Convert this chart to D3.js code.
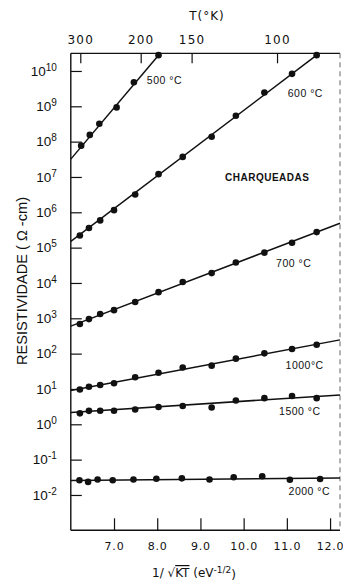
<!DOCTYPE html>
<html>
<head>
<meta charset="utf-8">
<script src="https://cdn.jsdelivr.net/npm/d3@7"></script>
<style>
  html, body { margin: 0; padding: 0; background: #fff; }
  svg { display: block; }
  text { fill: #111; }
</style>
</head>
<body>
<svg id="chart" width="343" height="581"></svg>
<script>
// ---------- DATA ----------
const kB = 8.617e-5;                       // eV/K, top axis conversion
const tempTicks = [300, 200, 150, 100];    // T (°K) top axis
const xTicks = [7, 8, 9, 10, 11, 12];      // 1/sqrt(kT)
const yExps = [-2, -1, 0, 1, 2, 3, 4, 5, 6, 7, 8, 9, 10];

const seriesNames = ["500 °C", "600 °C", "700 °C", "1000°C", "1500 °C", "2000 °C"];

const x500 = [6.24, 6.44, 6.66, 7.06, 7.46, 8.03];
const r500 = [7.7e7, 1.55e8, 3.2e8, 9.3e8, 4.8e9, 2.8e10];

const xGrid = [6.21, 6.42, 6.68, 7.00, 7.49, 8.03, 8.59, 9.26, 9.82, 10.48, 11.12, 11.69];
const r600 = [2.2e5, 3.6e5, 5.9e5, 1.15e6, 3.2e6, 1.2e7, 3.7e7, 1.38e8, 5.4e8, 2.45e9, 8.3e9, 2.8e10];
const r700 = [690, 950, 1320, 1700, 2900, 5500, 1.07e4, 1.9e4, 3.8e4, 7.2e4, 1.38e5, 2.75e5];
const r1000 = [9.7, 11.5, 12.9, 14.5, 21.4, 28.8, 40.7, 45.7, 72, 102, 135, 178];
const r1500 = [2.04, 2.4, 2.43, 2.43, 2.63, 3.1, 3.3, 3.0, 4.7, 5.5, 6.3, 5.5];

const x2000 = [6.20, 6.40, 6.62, 6.97, 7.45, 7.98, 8.57, 9.21, 9.77, 10.43, 11.07, 11.77];
const r2000 = [0.026, 0.0234, 0.0275, 0.026, 0.0275, 0.0288, 0.0295, 0.0275, 0.0316, 0.034, 0.0269, 0.0282];

// fitted lines (x, resistivity)
const fit500 = [[6.0, 3.2e7], [8.03, 2.8e10]];
const fit600 = [[6.0, 1.5e5], [11.69, 2.8e10]];
const fit700 = [[6.0, 600], [12.23, 4.9e5]];
const fit1000 = [[6.0, 9.0], [12.23, 245]];
const fit1500 = [[6.0, 2.16], [12.23, 6.8]];
const fit2000 = [[6.0, 0.0257], [12.23, 0.030]];

// ---------- CHART ----------
const svg = d3.select("#chart");
const L = 70.8, R = 340, T = 53.3, B = 530.3;

const x = d3.scaleLinear().domain([6, 12.23]).range([L, R]);
const y = d3.scaleLog().domain([1e-3, Math.pow(10, 10.5)]).range([B, T]);

const font = "'Liberation Sans', Arial, sans-serif";

// frame
svg.append("line").attr("x1", L).attr("x2", L).attr("y1", T).attr("y2", B)
  .attr("stroke", "#111").attr("stroke-width", 1.4);
svg.append("line").attr("x1", L).attr("x2", R).attr("y1", T).attr("y2", T)
  .attr("stroke", "#111").attr("stroke-width", 1.3);
svg.append("line").attr("x1", L).attr("x2", R).attr("y1", B).attr("y2", B)
  .attr("stroke", "#111").attr("stroke-width", 1.4);
svg.append("line").attr("x1", R).attr("x2", R).attr("y1", T).attr("y2", B)
  .attr("stroke", "#666").attr("stroke-width", 1).attr("stroke-dasharray", "5,4");

// bottom axis
const gx = svg.append("g").attr("transform", `translate(0,${B})`)
  .call(d3.axisBottom(x).tickValues(xTicks).tickSize(-12).tickPadding(12)
    .tickFormat(d => d.toFixed(1)));
gx.select(".domain").remove();
gx.selectAll(".tick line").attr("stroke", "#111").attr("stroke-width", 1.2);
gx.selectAll(".tick text").attr("font-family", "'DejaVu Sans', sans-serif")
  .attr("font-size", 11).attr("letter-spacing", 0.8).attr("fill", "#111");

// top axis (temperature)
const gt = svg.append("g").attr("transform", `translate(0,${T})`)
  .call(d3.axisTop(x).tickValues(tempTicks.map(t => 1 / Math.sqrt(kB * t)))
    .tickSize(-10).tickPadding(9).tickFormat((d, i) => tempTicks[i]));
gt.select(".domain").remove();
gt.selectAll(".tick line").attr("stroke", "#111").attr("stroke-width", 1.2);
gt.selectAll(".tick text").attr("font-family", "'DejaVu Sans', sans-serif")
  .attr("font-size", 12).attr("letter-spacing", 1.2).attr("fill", "#111");

// left axis
const gy = svg.append("g").attr("transform", `translate(${L},0)`)
  .call(d3.axisLeft(y).tickValues(yExps.map(e => Math.pow(10, e)))
    .tickSize(-11).tickPadding(14).tickFormat(() => ""));
gy.select(".domain").remove();
gy.selectAll(".tick line").attr("stroke", "#111").attr("stroke-width", 1.2);
gy.selectAll(".tick text").each(function (d) {
  const t = d3.select(this);
  t.attr("font-family", font).attr("font-size", 13.5).attr("fill", "#111");
  t.append("tspan").text("10");
  t.append("tspan").attr("dy", "-0.5em").attr("font-size", 10)
    .text(String(Math.round(Math.log10(d))));
});

// lines and points
const seriesData = [
  { name: seriesNames[0], xs: x500, rs: r500, fit: fit500 },
  { name: seriesNames[1], xs: xGrid, rs: r600, fit: fit600 },
  { name: seriesNames[2], xs: xGrid, rs: r700, fit: fit700 },
  { name: seriesNames[3], xs: xGrid, rs: r1000, fit: fit1000 },
  { name: seriesNames[4], xs: xGrid, rs: r1500, fit: fit1500 },
  { name: seriesNames[5], xs: x2000, rs: r2000, fit: fit2000 }
];

const line = d3.line().x(d => x(d[0])).y(d => y(d[1]));
seriesData.forEach(s => {
  svg.append("path").attr("d", line(s.fit)).attr("fill", "none")
    .attr("stroke", "#111").attr("stroke-width", 1.5);
  svg.append("g").selectAll("circle").data(s.xs.map((v, i) => [v, s.rs[i]]))
    .join("circle").attr("cx", d => x(d[0])).attr("cy", d => y(d[1]))
    .attr("r", 3.3).attr("fill", "#111");
});

// series labels [x value, log10 resistivity at label centre]
const labelPos = [[7.76, 9.75], [11.02, 9.38], [10.75, 4.55], [10.97, 1.68], [10.82, 0.38], [11.04, -1.90]];
seriesData.forEach((s, i) => {
  svg.append("text").attr("x", x(labelPos[i][0]))
    .attr("y", y(Math.pow(10, labelPos[i][1])) + 3.7)
    .attr("font-family", font).attr("font-size", 10.5).attr("letter-spacing", 0.5)
    .text(s.name);
});

svg.append("text").attr("x", x(9.57)).attr("y", y(Math.pow(10, 6.99)) + 3.6)
  .attr("font-family", font).attr("font-size", 10).attr("font-weight", "bold")
  .attr("letter-spacing", 0.5).text("CHARQUEADAS");

// titles
svg.append("text").attr("x", 207).attr("y", 19.5).attr("text-anchor", "middle")
  .attr("font-family", "'DejaVu Sans', sans-serif").attr("font-size", 12)
  .attr("letter-spacing", 1).text("T(°K)");

const xt = svg.append("text").attr("x", 194).attr("y", 577).attr("text-anchor", "middle")
  .attr("font-family", "'DejaVu Sans', sans-serif").attr("font-size", 12);
xt.append("tspan").text("1/ √");
xt.append("tspan").attr("text-decoration", "overline").text("KT");
xt.append("tspan").text(" (eV");
xt.append("tspan").attr("dy", "-0.5em").attr("font-size", 9).text("-1/2");
xt.append("tspan").attr("dy", "0.5em").text(")");

svg.append("text").attr("transform", "translate(27,281) rotate(-90)")
  .attr("text-anchor", "middle").attr("font-family", font).attr("font-size", 15)
  .attr("textLength", 168).attr("lengthAdjust", "spacingAndGlyphs")
  .text("RESISTIVIDADE ( Ω -cm)");
</script>
</body>
</html>
